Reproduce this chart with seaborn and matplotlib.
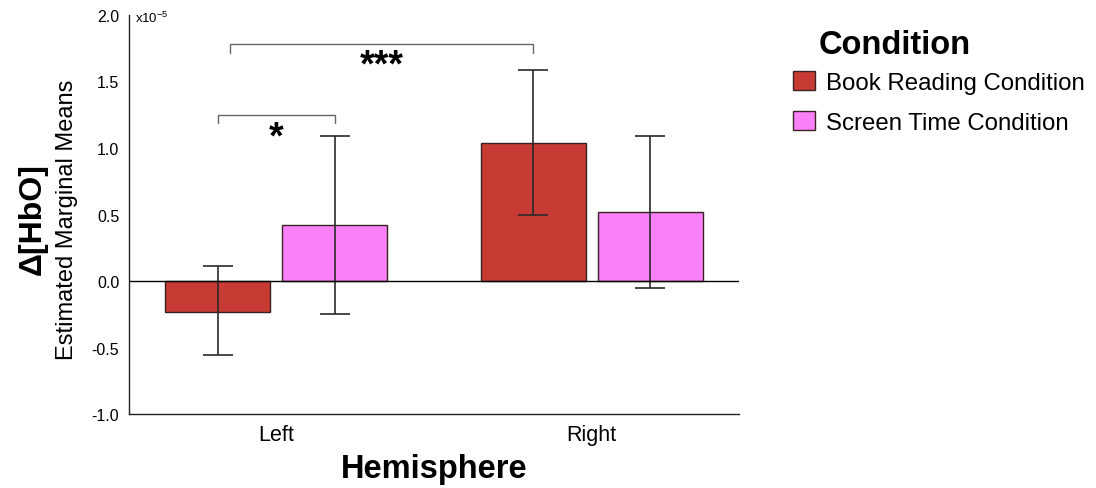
import pandas as pd
import matplotlib
matplotlib.use('Agg')
import matplotlib.pyplot as plt
import seaborn as sns

# values are in units of 1e-5
hemispheres = ['Left', 'Right']
conditions = ['Book Reading Condition', 'Screen Time Condition']
book_means = [-0.23, 1.04]
book_lower = [-0.56, 0.50]
book_upper = [0.11, 1.59]
screen_means = [0.42, 0.52]
screen_lower = [-0.25, -0.05]
screen_upper = [1.09, 1.09]
colors = ['#C83A34', '#FA80FA']
y_ticks = [-1.0, -0.5, 0.0, 0.5, 1.0, 1.5, 2.0]


def build_frame():
    rows = []
    series = [
        (conditions[0], book_means, book_lower, book_upper),
        (conditions[1], screen_means, screen_lower, screen_upper),
    ]
    for condition, means, lower, upper in series:
        for i, hemi in enumerate(hemispheres):
            rows.append({
                'hemisphere': hemi,
                'condition': condition,
                'mean': means[i],
                'lower': lower[i],
                'upper': upper[i],
            })
    return pd.DataFrame(rows)


def bracket(ax, x1, x2, y, drop, text, text_y, size):
    ax.plot([x1, x1, x2, x2], [y - drop, y, y, y - drop],
            color='#666666', linewidth=1)
    ax.text((x1 + x2) / 2, text_y, text, ha='center', va='center',
            fontsize=size, fontweight='bold')


def main():
    df = build_frame()

    sns.set_style('white')
    plt.rcParams['font.family'] = ['Liberation Sans', 'DejaVu Sans']
    plt.rcParams['text.color'] = 'black'
    plt.rcParams['axes.labelcolor'] = 'black'
    plt.rcParams['xtick.color'] = 'black'
    plt.rcParams['ytick.color'] = 'black'

    fig = plt.figure(figsize=(10.96, 4.89), dpi=100)
    ax = fig.add_axes([0.1177, 0.1513, 0.5566, 0.8160])

    sns.barplot(data=df, x='hemisphere', y='mean', hue='condition',
                order=hemispheres, hue_order=conditions, palette=colors,
                saturation=1, width=0.74, gap=0.1, errorbar=None,
                edgecolor='#3a2222', linewidth=1, ax=ax)

    # error bars at the centre of each bar
    centers = {}
    for condition, container in zip(conditions, ax.containers):
        bars = sorted(container, key=lambda b: b.get_x())
        sub = df[df['condition'] == condition].set_index('hemisphere')
        for hemi, bar in zip(hemispheres, bars):
            cx = bar.get_x() + bar.get_width() / 2
            centers[(hemi, condition)] = cx
            m = sub.loc[hemi, 'mean']
            ax.errorbar(cx, m,
                        yerr=[[m - sub.loc[hemi, 'lower']],
                              [sub.loc[hemi, 'upper'] - m]],
                        color='#2a2a2a', linewidth=1.2, capsize=10.5,
                        capthick=1.2)

    ax.axhline(0, color='black', linewidth=1)

    ax.set_ylim(-1.0, 2.0)
    ax.set_xlim(-0.467, 1.467)
    ax.set_yticks(y_ticks)
    ax.set_yticklabels([f'{t:.1f}' for t in y_ticks])
    ax.tick_params(axis='both', length=0)
    ax.tick_params(axis='y', labelsize=11.5, pad=7)
    ax.tick_params(axis='x', labelsize=15.5, pad=7)
    sns.despine(ax=ax)
    for side in ['left', 'bottom']:
        ax.spines[side].set_color('#222222')
        ax.spines[side].set_linewidth(1)

    ax.text(0.01, 0.993, r'x10$^{\mathregular{-5}}$', transform=ax.transAxes,
            ha='left', va='center', fontsize=9.5)

    bracket(ax, centers[('Left', conditions[0])],
            centers[('Left', conditions[1])], 1.25, 0.06, '*', 1.08, 27)
    bracket(ax, -0.146, centers[('Right', conditions[0])],
            1.785, 0.07, '***', 1.62, 27)

    ax.set_xlabel('Hemisphere', fontsize=23.5, fontweight='bold', labelpad=6)
    ax.set_ylabel('')
    ax.text(-0.157, 0.49, 'Δ[HbO]', transform=ax.transAxes, rotation=90,
            ha='center', va='center', fontsize=23, fontweight='bold')
    ax.text(-0.102, 0.49, 'Estimated Marginal Means', transform=ax.transAxes,
            rotation=90, ha='center', va='center', fontsize=17)

    sns.move_legend(ax, loc='upper left',
                    bbox_to_anchor=(793 / 1096, 1 - 72 / 489),
                    bbox_transform=fig.transFigure, title=None,
                    frameon=False, fontsize=17.3, borderpad=0,
                    borderaxespad=0, handlelength=0.9, handleheight=0.85,
                    handletextpad=0.47, labelspacing=0.72)
    fig.text(819 / 1096, 1 - 45 / 489, 'Condition', ha='left', va='center',
             fontsize=23.5, fontweight='bold')

    fig.savefig('out.png', dpi=100)


if __name__ == '__main__':
    main()
